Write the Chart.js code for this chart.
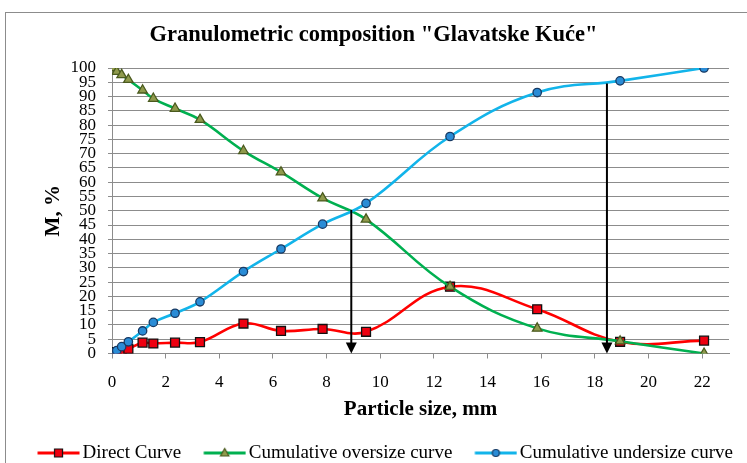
<!DOCTYPE html>
<html><head><meta charset="utf-8">
<script src="https://cdn.jsdelivr.net/npm/chart.js@4.4.1/dist/chart.umd.min.js"></script>
<style>
html,body{margin:0;padding:0;background:#fff;overflow:hidden;width:747px;height:463px}
#frame{position:absolute;left:5px;top:12px;width:800px;height:500px;border:1.5px solid #8c8c8c;}
#wrap{position:absolute;left:0;top:0;width:747px;height:463px}
</style></head><body>
<div id="frame"></div>
<div id="wrap"><canvas id="c" width="747" height="463"></canvas></div>
<script>
// ---- data ----
const particleSizes = [0.07, 0.175, 0.36, 0.61, 1.14, 1.54, 2.35, 3.28, 4.9, 6.3, 7.85, 9.47, 12.6, 15.85, 18.94, 22.07];
const directCurve   = [0.2, 0.5, 0.8, 1.6, 3.8, 3.5, 3.8, 4.0, 10.5, 7.9, 8.6, 7.6, 23.4, 15.5, 4.1, 4.5];
const oversizeCurve = [100, 98.7, 97.6, 95.9, 92.2, 89.3, 85.8, 81.9, 71.0, 63.5, 54.4, 47.0, 23.4, 8.8, 4.3, 0];
const undersizeCurve= [0.2, 1.0, 2.4, 4.1, 7.9, 10.9, 14.1, 18.1, 28.7, 36.6, 45.3, 52.6, 76.0, 91.4, 95.5, 100];
const seriesNames = ['Direct Curve', 'Cumulative oversize curve', 'Cumulative undersize curve'];
const xTickValues = [0, 2, 4, 6, 8, 10, 12, 14, 16, 18, 20, 22];
const yTickValues = [0, 5, 10, 15, 20, 25, 30, 35, 40, 45, 50, 55, 60, 65, 70, 75, 80, 85, 90, 95, 100];
const arrowX    = [8.92, 18.45];
const arrowFrom = [50.3, 94.6];
const arrowTo   = [0, 0];
const chartTitle = 'Granulometric composition "Glavatske Kuće"';
const xTitle = 'Particle size, mm';
const yTitle = 'M, %';

const SERIF = '"Liberation Serif", "Times New Roman", serif';
const pts = ys => particleSizes.map((x, i) => ({x: x, y: ys[i]}));

// legend icon: line with marker; box width 44, icon canvas centred on box centre
const BOXW = 44;
function makeIcon(lineColor, style, fill, stroke) {
  const c = document.createElement('canvas');
  const half = BOXW / 2 + 7;
  c.width = Math.round(half * 2); c.height = 14;
  const g = c.getContext('2d');
  const lineEnd = half + BOXW / 2 + 6.5, lineStart = lineEnd - 42;
  g.strokeStyle = lineColor; g.lineWidth = 3;
  g.beginPath(); g.moveTo(lineStart, 7); g.lineTo(lineEnd, 7); g.stroke();
  const cx = (lineStart + lineEnd) / 2, cy = 7;
  g.fillStyle = fill; g.strokeStyle = stroke; g.lineWidth = 1.2;
  g.beginPath();
  if (style === 'rect') { g.rect(cx - 4, cy - 4, 8, 8); }
  else if (style === 'triangle') { g.moveTo(cx, cy - 4.5); g.lineTo(cx + 4.2, cy + 3); g.lineTo(cx - 4.2, cy + 3); g.closePath(); }
  else { g.arc(cx, cy, 3.5, 0, Math.PI * 2); }
  g.fill(); g.stroke();
  return c;
}

const styles = [
  {line: '#ff0000', point: 'rect', fill: '#ee0010', stroke: '#111111', r: 6.3},
  {line: '#00b050', point: 'triangle', fill: '#8f9a4c', stroke: '#4a5a1e', r: 5.5},
  {line: '#12b4ea', point: 'circle', fill: '#2a8cd6', stroke: '#173a64', r: 4.2}
];
const icons = styles.map(s => makeIcon(s.line, s.point, s.fill, s.stroke));
const seriesData = [directCurve, oversizeCurve, undersizeCurve];

const datasets = seriesData.map((ys, i) => ({
  label: seriesNames[i],
  data: pts(ys),
  borderColor: styles[i].line,
  backgroundColor: styles[i].fill,
  borderWidth: 2.6,
  tension: 0.4,
  pointStyle: styles[i].point,
  pointRadius: styles[i].r,
  pointBackgroundColor: styles[i].fill,
  pointBorderColor: styles[i].stroke,
  pointBorderWidth: 1.3,
  order: 3 - i
}));

const arrowPlugin = {
  id: 'arrows',
  afterDatasetsDraw(chart) {
    const {ctx, scales: {x, y}} = chart;
    ctx.save();
    ctx.strokeStyle = '#000'; ctx.fillStyle = '#000'; ctx.lineWidth = 2;
    arrowX.forEach((ax, i) => {
      const px = x.getPixelForValue(ax);
      const top = y.getPixelForValue(arrowFrom[i]);
      const bot = y.getPixelForValue(arrowTo[i]);
      const headH = 11, headW = 5.5;
      ctx.beginPath(); ctx.moveTo(px, top); ctx.lineTo(px, bot - headH + 1); ctx.stroke();
      ctx.beginPath(); ctx.moveTo(px - headW, bot - headH); ctx.lineTo(px + headW, bot - headH); ctx.lineTo(px, bot); ctx.closePath(); ctx.fill();
    });
    ctx.restore();
  }
};

new Chart(document.getElementById('c'), {
  type: 'line',
  data: {datasets},
  plugins: [arrowPlugin],
  options: {
    responsive: false,
    devicePixelRatio: 1,
    animation: false,
    layout: {padding: {left: 0, right: 0, top: 0, bottom: -9.5}},
    scales: {
      x: {
        type: 'linear', min: 0, max: 23,
        afterBuildTicks: s => { s.ticks = xTickValues.map(v => ({value: v})); },
        afterFit: s => { s.height = 76; },
        ticks: {font: {family: SERIF, size: 17}, color: '#000', padding: 14, maxRotation: 0, autoSkip: false},
        grid: {drawOnChartArea: false, drawTicks: true, tickLength: 5, color: '#8c8c8c'},
        border: {display: true, color: '#8c8c8c', width: 1},
        title: {display: true, text: xTitle, color: '#000', font: {family: SERIF, size: 21, weight: 'bold'}, padding: {top: 0, bottom: 6.9}}
      },
      y: {
        type: 'linear', min: 0, max: 100,
        afterBuildTicks: s => { s.ticks = yTickValues.map(v => ({value: v})); },
        afterFit: s => { s.width = 112; },
        ticks: {font: {family: SERIF, size: 17}, color: '#000', padding: 12, autoSkip: false},
        grid: {color: '#8c8c8c', lineWidth: 1, drawTicks: true, tickLength: 4},
        border: {display: true, color: '#8c8c8c', width: 1},
        title: {display: true, text: yTitle, color: '#000', font: {family: SERIF, size: 21, weight: 'bold'}, padding: {top: 41, bottom: 0}}
      },
      yRight: {
        type: 'linear', position: 'right', min: 0, max: 100,
        display: true,
        afterFit: s => { s.width = 18; },
        ticks: {display: false},
        grid: {display: false, drawTicks: false},
        border: {display: false},
        title: {display: false}
      }
    },
    plugins: {
      title: {display: true, text: chartTitle, color: '#000', font: {family: SERIF, size: 22.5, weight: 'bold'}, padding: {top: 21.5, bottom: 19.5}},
      legend: {
        position: 'bottom',
        align: 'end',
        labels: {
          usePointStyle: true,
          pointStyleWidth: BOXW,
          padding: 14,
          color: '#000',
          font: {family: SERIF, size: 19},
          sort: (a, b) => a.datasetIndex - b.datasetIndex,
          generateLabels: chart => Chart.defaults.plugins.legend.labels.generateLabels(chart).map(l => Object.assign(l, {pointStyle: icons[l.datasetIndex]}))
        }
      },
      tooltip: {enabled: false}
    }
  }
});
</script>
</body></html>
